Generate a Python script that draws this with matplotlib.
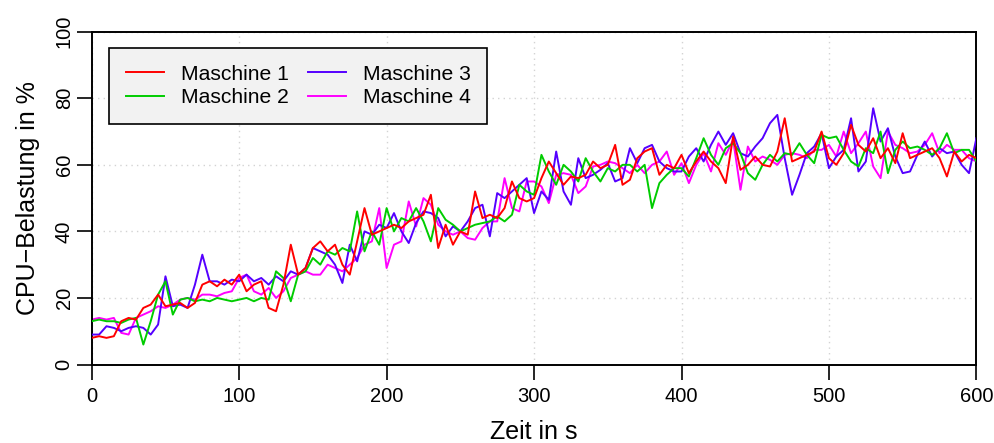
import numpy as np
import matplotlib
matplotlib.use("Agg")
import matplotlib.pyplot as plt

# sample times (s), every 5 s
zeit = np.arange(0, 601, 5)

maschine_1 = [
    8, 8.5, 8, 8.5, 13, 14, 13.5, 17, 18, 21, 17.5, 18, 18.5, 17, 18.5, 24, 25, 23.5, 25.5, 24,
    27, 22, 24, 25, 17, 16, 24, 36, 27, 29, 35, 37, 34, 36, 30, 27, 37, 47, 39, 40, 41,
    42, 41, 43, 44, 45, 51, 35, 42, 36, 40, 39, 52, 44, 45, 44, 47, 55, 50, 49, 50,
    56, 61, 57.5, 54, 56.5, 56, 57, 61, 59, 60, 66, 54, 55.5, 62, 64, 65, 57, 60, 59, 63,
    57.5, 61, 64, 61, 59, 54.5, 68.5, 58.5, 60, 62.5, 60, 59.5, 64, 74, 61, 62, 63, 64, 70, 62,
    60, 63.5, 72, 66, 64, 68, 62, 65, 60.5, 69.5, 62, 63, 64, 65, 62, 56.5, 64, 61, 63, 62,
]
maschine_2 = [
    13, 13.5, 13, 13, 12.5, 13.5, 14, 6, 13, 21, 25, 15, 19.5, 20, 19, 19.5, 19, 20, 19.5, 19,
    19.5, 20, 19, 20, 19.5, 28, 26, 19, 27, 28, 32, 30, 34, 33, 35, 34, 46, 34, 40, 36, 47,
    40, 44, 43, 47, 43, 37, 47, 43.5, 42, 40, 41, 42, 42.5, 43, 44.5, 43, 45, 54, 52, 51,
    63, 58, 54, 60, 58, 55, 62, 58, 55, 59, 58, 60, 60, 58, 60, 47, 54.5, 57, 59, 59,
    56.5, 62, 68, 63, 60, 65, 66.5, 63.5, 57.5, 55.5, 60, 63, 61, 63.5, 63, 66.5, 63, 60.5, 69, 68,
    68.5, 64.5, 61, 59.5, 65, 63.5, 70, 57.5, 64.5, 67, 65, 65.5, 64.5, 63, 65, 69.5, 63.5, 64.5, 64.5, 61,
]
maschine_3 = [
    9, 9, 11.5, 11, 10, 11, 11.5, 11, 9, 12, 26.5, 17.5, 18, 17, 24, 33, 25, 25, 24, 25.5,
    25, 27, 25, 26, 24, 26.5, 25, 28, 27, 29, 35, 34, 33, 30, 24.5, 36, 31, 40, 39, 42, 41,
    45.5, 40, 36.5, 42.5, 46, 45.5, 44, 38.5, 41.5, 40, 43, 47, 48, 38.5, 51.5, 50, 52, 54, 56, 45.5,
    52, 49.5, 64, 52, 48, 62, 56, 57, 58.5, 60.5, 55, 56, 65, 60.5, 65, 66, 61, 59, 58, 58,
    62.5, 65, 61, 66, 70, 66, 69.5, 63.5, 62.5, 65.5, 68, 72.5, 75, 62, 51, 57, 63.5, 65.5, 69.5, 59,
    62.5, 64.5, 74, 58, 61, 77, 67, 71, 62.5, 57.5, 58, 63, 67, 62.5, 65, 63.5, 64, 60, 57.5, 68,
]
maschine_4 = [
    13.5, 14, 13.5, 14, 9.5, 9, 14, 15, 16, 17.5, 17, 18, 19.5, 20, 19.5, 21, 21, 20.5, 21.5, 22,
    26, 27, 22, 21, 23, 20, 22, 26, 27, 28, 27, 27, 30, 29, 28, 30, 32, 36, 37, 47, 29,
    36, 37, 49, 41.5, 50, 48, 42, 40, 39, 40, 38, 37.5, 41, 43, 43, 56, 47, 46, 55, 55,
    53.5, 48.5, 57, 57.5, 57, 51.5, 53.5, 59.5, 60, 61, 60.5, 59, 57.5, 60, 57.5, 60, 61, 64, 57, 60.5,
    54.5, 60, 63.5, 58, 66.5, 63, 67.5, 52.5, 65.5, 61, 62.5, 61.5, 60, 63, 63.5, 63, 62, 64.5, 64.5, 66,
    62.5, 70, 63.5, 66.5, 70, 59.5, 56, 70, 66, 65, 63.5, 64, 66, 69.5, 63.5, 66, 64.5, 64.5, 62, 61,
]

namen = ["Maschine 1", "Maschine 2", "Maschine 3", "Maschine 4"]
farben = ["#FF0000", "#00CC00", "#5500FF", "#FF00FF"]
x_ticks = [0, 100, 200, 300, 400, 500, 600]
y_ticks = [0, 20, 40, 60, 80, 100]

plt.rcParams["font.family"] = ["Liberation Sans", "DejaVu Sans"]

fig = plt.figure(figsize=(9.95, 4.43), dpi=100)
ax = fig.add_axes([0.0922, 0.1772, 0.8891, 0.7512])

serien = [maschine_1, maschine_2, maschine_3, maschine_4]
zorders = [5, 4, 3, 2]
for werte, name, farbe, z in zip(serien, namen, farben, zorders):
    ax.plot(zeit, werte, color=farbe, lw=1.4, label=name, zorder=z)

ax.set_xlim(0, 600)
ax.set_ylim(0, 100)
ax.set_xticks(x_ticks)
ax.set_yticks(y_ticks)
ax.grid(True, color="lightgray", linestyle=(0, (1, 3)), lw=1.0)
ax.set_axisbelow(True)

for sp in ax.spines.values():
    sp.set_linewidth(1.4)
ax.tick_params(axis="both", direction="out", length=11, width=1.2, labelsize=14.5)
ax.tick_params(axis="x", pad=5)
ax.tick_params(axis="y", pad=2)
for lab in ax.get_yticklabels():
    lab.set_rotation(90)
    lab.set_va("center")

ax.set_xlabel("Zeit in s", fontsize=18)
ax.set_ylabel("CPU\u2212Belastung in %", fontsize=18)
ax.xaxis.set_label_coords(0.5, -0.168)
ax.yaxis.set_label_coords(-0.058, 0.5)

leg = ax.legend(loc="upper left", bbox_to_anchor=(0.0199, 0.950), borderaxespad=0,
                ncol=2, fontsize=15.2, handlelength=1.8, handletextpad=0.8,
                columnspacing=0.92, labelspacing=0.22, borderpad=0.78,
                fancybox=False, framealpha=1.0)
leg.get_frame().set_facecolor("#F2F2F2")
leg.get_frame().set_edgecolor("black")
leg.get_frame().set_linewidth(1.2)
leg.set_zorder(10)

fig.savefig("out.png", dpi=100)
